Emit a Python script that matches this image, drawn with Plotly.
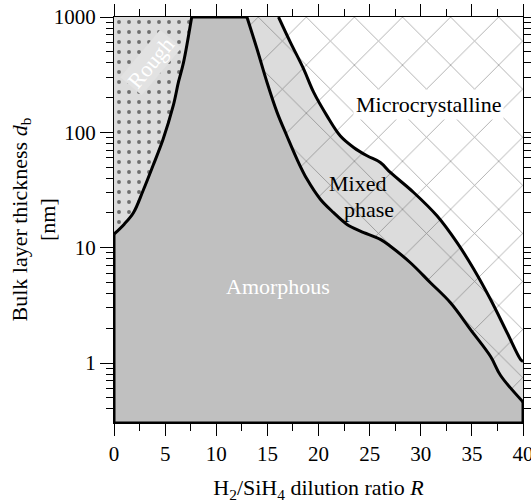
import plotly.graph_objects as go

# ---- data (R, d_b in nm) ----
rough_R = [0.0, 1.0, 1.9, 2.83, 3.8, 4.8, 5.8, 6.3, 6.8, 7.6]
rough_d = [13.1, 16.0, 20.1, 31.0, 51.0, 87.0, 171.0, 272.0, 404.0, 1000.0]

inner_R = [13.0, 13.98, 14.96, 15.95, 16.91, 17.89, 18.87, 20.18, 21.48, 22.79,
           24.09, 26.05, 27.03, 28.99, 30.95, 32.91, 34.87, 36.83, 37.81, 40.0]
inner_d = [1000.0, 530.0, 272.0, 149.0, 93.0, 58.6, 39.3, 26.3, 20.1, 15.9,
           13.9, 11.8, 10.3, 7.4, 4.97, 3.33, 1.95, 1.14, 0.78, 0.46]

outer_R = [16.09, 17.24, 18.54, 19.52, 20.83, 22.14, 23.44, 24.75, 26.05, 27.03,
           29.31, 31.61, 33.57, 35.19, 36.83, 38.46, 39.77, 40.0]
outer_d = [1000.0, 606.0, 355.0, 223.0, 139.0, 93.0, 74.0, 62.6, 54.8, 44.9,
           30.1, 18.8, 11.0, 6.5, 3.55, 1.82, 1.07, 1.03]

R_min, R_max = 0.0, 40.0
d_min, d_max = 0.302, 1000.0

x_ticks = [0, 5, 10, 15, 20, 25, 30, 35, 40]
y_ticks = [1, 10, 100, 1000]
y_ticktext = ["1", "10", "100", "1000"]
y_minor = [m * 10 ** e for e in (-1, 0, 1, 2) for m in range(2, 10) if 0.3 < m * 10 ** e < 1000]

FONT = "Liberation Serif"
ROUGH_BG = "#dcdcdc"
MIXED_BG = "#dcdcdc"
AMORPH = "#c0c0c0"
HATCH = "#3a3a3a"

fig = go.Figure()

# Rough region
fig.add_trace(go.Scatter(
    x=rough_R + [R_min], y=rough_d + [d_max],
    fill="toself", mode="lines", line=dict(width=0),
    fillcolor=ROUGH_BG,
    fillpattern=dict(shape=".", size=10, solidity=0.12, fgcolor="black", bgcolor=ROUGH_BG),
    hoverinfo="skip", showlegend=False))

# Microcrystalline region
fig.add_trace(go.Scatter(
    x=outer_R + [R_max], y=outer_d + [d_max],
    fill="toself", mode="lines", line=dict(width=0),
    fillcolor="white",
    fillpattern=dict(shape="x", size=34, solidity=0.045, fgcolor=HATCH, bgcolor="white"),
    hoverinfo="skip", showlegend=False))

# Mixed phase region
fig.add_trace(go.Scatter(
    x=inner_R + outer_R[::-1], y=inner_d + outer_d[::-1],
    fill="toself", mode="lines", line=dict(width=0),
    fillcolor=MIXED_BG,
    fillpattern=dict(shape="x", size=34, solidity=0.045, fgcolor=HATCH, bgcolor=MIXED_BG),
    hoverinfo="skip", showlegend=False))

# Amorphous region
fig.add_trace(go.Scatter(
    x=[R_min] + rough_R + inner_R + [R_max],
    y=[d_min] + rough_d + inner_d + [d_min],
    fill="toself", mode="lines", line=dict(width=0),
    fillcolor=AMORPH, hoverinfo="skip", showlegend=False))

# Boundaries
for xs, ys, shp in [(rough_R, rough_d, "spline"),
                    (inner_R, inner_d, "spline"),
                    (outer_R, outer_d, "spline"),
                    ([rough_R[-1], inner_R[0]], [d_max, d_max], "linear"),
                    ([R_min, R_min, R_max, R_max], [rough_d[0], d_min, d_min, inner_d[-1]], "linear")]:
    fig.add_trace(go.Scatter(x=xs, y=ys, mode="lines",
                             line=dict(color="black", width=3, shape=shp),
                             cliponaxis=False, hoverinfo="skip", showlegend=False))

# invisible trace that activates the top/right tick axes
fig.add_trace(go.Scatter(x=[R_min, R_max], y=[d_min, d_max], xaxis="x2", yaxis="y2", mode="markers",
                         marker=dict(opacity=0), hoverinfo="skip", showlegend=False))

ann_font = dict(family=FONT, size=22)
fig.add_annotation(x=3.6, y=2.609, text="Rough", textangle=-50, showarrow=False,
                   font=dict(ann_font, color="white"), bgcolor="#e2e2e2", borderpad=1)
fig.add_annotation(x=16.0, y=0.663, text="Amorphous", showarrow=False,
                   font=dict(ann_font, color="white"))
fig.add_annotation(x=30.8, y=2.245, text="Microcrystalline", showarrow=False,
                   font=dict(ann_font, color="black"), bgcolor="white", borderpad=2)
fig.add_annotation(x=23.8, y=1.555, text="Mixed", showarrow=False,
                   font=dict(ann_font, color="black"))
fig.add_annotation(x=24.9, y=1.335, text="phase", showarrow=False,
                   font=dict(ann_font, color="black"))

# y-axis title (two lines)
fig.add_annotation(xref="paper", yref="paper", x=(33.5 - 114) / 409, y=0.5,
                   xanchor="center", yanchor="middle", textangle=-90, showarrow=False,
                   text="Bulk layer thickness <i>d</i><sub>b</sub><br>[nm]",
                   font=dict(family=FONT, size=22, color="black"))

fig.update_layout(
    width=531, height=503,
    margin=dict(l=114, r=8, t=17, b=80),
    paper_bgcolor="white", plot_bgcolor="white",
    font=dict(family=FONT, size=21, color="black"),
    showlegend=False,
)
tick_minor_x = dict(dtick=2.5, ticks="outside", ticklen=7, tickwidth=1, tickcolor="black", showgrid=False)
tick_minor_y = dict(tickvals=y_minor, ticks="outside", ticklen=7, tickwidth=1, tickcolor="black", showgrid=False)

fig.update_layout(
    xaxis=dict(
        range=[R_min, R_max], tickvals=x_ticks, ticks="outside", ticklen=12, tickwidth=1,
        tickcolor="black", showline=True, linecolor="black", linewidth=1, mirror=True,
        showgrid=False, zeroline=False, automargin=False, ticklabeloverflow="allow",
        minor=tick_minor_x, tickfont=dict(family=FONT, size=21),
        title=dict(text="H<sub>2</sub>/SiH<sub>4</sub> dilution ratio <i>R</i>",
                   font=dict(family=FONT, size=22), standoff=16),
    ),
    yaxis=dict(
        type="log", range=[-0.52, 3], tickvals=y_ticks, ticktext=y_ticktext,
        ticks="outside", ticklen=13, tickwidth=1, tickcolor="black",
        showline=True, linecolor="black", linewidth=1, mirror=True,
        showgrid=False, zeroline=False, automargin=False, ticklabeloverflow="allow",
        minor=tick_minor_y, tickfont=dict(family=FONT, size=21),
    ),
    xaxis2=dict(
        overlaying="x", side="top", range=[R_min, R_max], autorange=False, tickvals=x_ticks,
        ticks="outside", ticklen=12, tickwidth=1, tickcolor="black",
        showticklabels=False, showline=False, showgrid=False, zeroline=False,
        automargin=False, minor=tick_minor_x,
    ),
    yaxis2=dict(
        overlaying="y", side="right", type="log", range=[-0.52, 3], autorange=False, tickvals=y_ticks,
        ticks="outside", ticklen=13, tickwidth=1, tickcolor="black",
        showticklabels=False, showline=False, showgrid=False, zeroline=False,
        automargin=False, minor=tick_minor_y,
    ),
)

fig.write_html("out.html")
